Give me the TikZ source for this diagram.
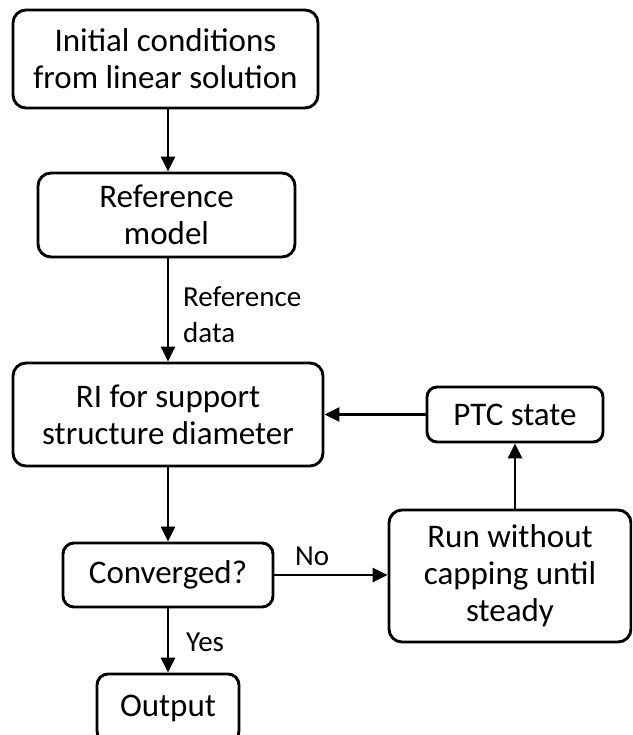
\documentclass[tikz,border=0pt]{standalone}
\usepackage{fontspec}
\setmainfont{Carlito}
\usetikzlibrary{arrows.meta}
\begin{document}
\begin{tikzpicture}[x=1pt,y=-1pt,
  box/.style={draw, line width=2.9pt, rounded corners=13pt, align=center,
    inner sep=0pt, font=\fontsize{33}{37}\selectfont},
  lbl/.style={font=\fontsize{29}{36}\selectfont, align=left, inner sep=0pt},
  arr/.style={line width=2.9pt, -{Triangle[length=15pt,width=14pt]}}]
\useasboundingbox (0,0) rectangle (632,735);
\begin{scope}
\clip (0,0) rectangle (632,735);
\node[box, minimum width=305pt, minimum height=98pt] (init) at (165.5,59) {Initial conditions\\from linear solution};
\node[box, minimum width=257pt, minimum height=84pt] (ref) at (166.5,215) {Reference\\model};
\node[box, minimum width=310pt, minimum height=103pt] (ri) at (168,414.5) {RI for support\\structure diameter};
\node[box, minimum width=210pt, minimum height=64pt, rounded corners=11pt] (conv) at (168,575) {Converged?};
\node[box, minimum width=142pt, minimum height=68pt, rounded corners=11pt] (out) at (168,708) {Output};
\node[box, minimum width=176pt, minimum height=55pt, rounded corners=10pt] (ptc) at (515,414.5) {PTC state};
\node[box, minimum width=242pt, minimum height=132pt] (run) at (510,576) {Run without\\capping until\\steady};
\end{scope}
\draw[arr] (init.south -| 168,0) -- (ref.north -| 168,0);
\draw[arr] (ref.south -| 168,0) -- (ri.north -| 168,0);
\draw[arr] (ri.south -| 168,0) -- (conv.north);
\draw[arr] (conv.south) -- (out.north);
\draw[arr] (conv.east) -- (run.west |- conv.east);
\draw[arr] (run.north -| ptc.south) -- (ptc.south);
\draw[arr] (ptc.west) -- (ri.east |- ptc.west);
\node[lbl, anchor=west] (refdata) at (183,315) {Reference\\data};
\node[lbl, anchor=west] (yes) at (186,642) {Yes};
\node[lbl, anchor=west] (no) at (295,556) {No};
\end{tikzpicture}
\end{document}
